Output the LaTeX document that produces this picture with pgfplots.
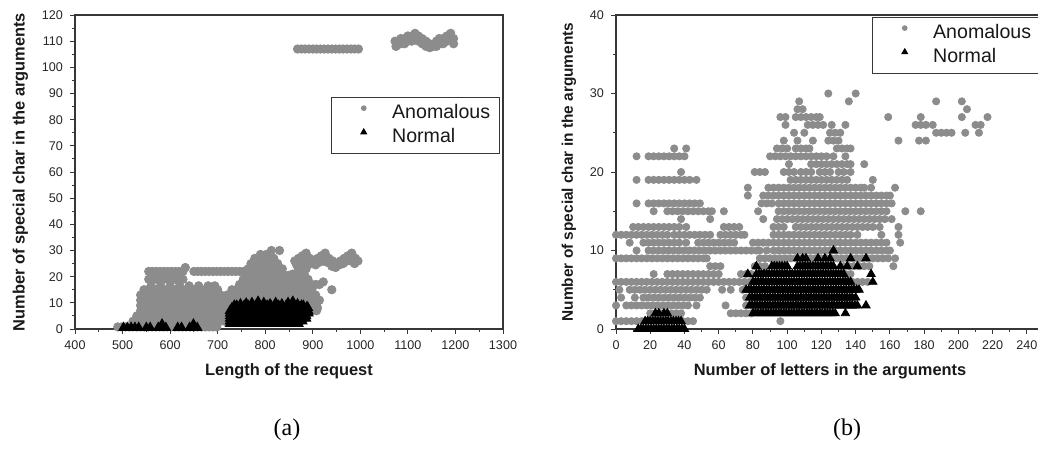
\documentclass[border=0pt]{standalone}
\usepackage{pgfplots}
\pgfplotsset{compat=1.18}
\usepackage{fontspec}
\setmainfont{Liberation Sans}
\newfontfamily\capfont{Liberation Serif}
\definecolor{anom}{RGB}{140,140,140}
\definecolor{axc}{RGB}{55,55,55}
\pgfplotsset{
  panel/.style={
    scale only axis, width=214pt, height=157pt,
    axis line style={axc, line width=0.65pt},
    tick style={axc, line width=0.5pt},
    tick align=outside,
    major tick length=2.5pt, minor tick length=1.5pt,
    xtick pos=bottom, ytick pos=left,
    ticklabel style={font=\fontsize{6.3}{7}\selectfont, text=black!85},
    /pgf/number format/assume math mode=true,
    /pgf/number format/1000 sep={},
    label style={font=\bfseries\fontsize{8.2}{9}\selectfont, text=black!90},
    legend style={draw=axc, line width=0.4pt, fill=white,
      font=\fontsize{9.8}{11}\selectfont, text=black!90,
      inner xsep=4.5pt, inner ysep=3.5pt, column sep=2.5pt, row sep=3pt,
      nodes={inner sep=0pt, text height=7pt, text depth=2pt}},
    legend cell align=left,
    legend image code/.code={\draw[##1] plot coordinates {(0pt,2.6pt)}; \path (-11.5pt,0pt) (11.5pt,0pt);},
  },
  gray pts/.style={only marks, mark=*, mark size=#1, color=anom, mark options={draw=anom, fill=anom},
    legend image post style={mark size=1.2pt}},
  black pts/.style={only marks, mark=triangle*, mark size=#1, color=black, mark options={draw=black, fill=black},
    legend image post style={mark size=1.7pt}},
}
\begin{document}
\begin{tikzpicture}
% ================= (a) =================
\begin{axis}[panel, at={(37.5pt,61pt)}, anchor=south west,
  xmin=400, xmax=1300, ymin=0, ymax=120,
  xtick={400,500,...,1300}, minor x tick num=1,
  ytick={0,10,...,120}, minor y tick num=1,
  xlabel={Length of the request},
  ylabel={Number of special char in the arguments},
  legend style={at={(0.598,0.739)}, anchor=north west}]
\addplot[gray pts=2.1pt] coordinates {
(868,107)(876,107)(884,107)(892,107)(900,107)(908,107)(916,107)(924,107)(932,107)(940,107)(948,107)(956,107)(964,107)(972,107)(980,107)(988,107)(996,107)
(1073,110)(1080,109)(1085,111)(1093,111)(1100,112)(1108,112)(1115,113)(1122,112)(1130,111)(1138,110)(1146,109)(1153,108)(1160,110)(1166,111)(1174,111)(1182,112)(1190,113)(1196,111)
(1075,108)(1085,109)(1093,109)(1100,110)(1108,110)(1115,111)(1122,110)(1130,109)(1138,108)(1146,107.5)(1160,108)(1166,109)(1174,109)(1182,110)(1190,111)(1196,109)
(490,0.8)(498,0.8)(506,0.8)(514,0.8)(522,0.8)(530,0.8)(538,0.8)(546,0.8)(554,0.8)(562,0.8)(570,0.8)(578,0.8)(586,0.8)(594,0.8)(602,0.8)(610,0.8)(618,0.8)(626,0.8)(634,0.8)(642,0.8)(650,0.8)(658,0.8)(666,0.8)(674,0.8)(682,0.8)(690,0.8)(698,0.8)
(522,3)(530,3)(538,3)(546,3)(554,3)(562,3)(570,3)(578,3)(586,3)(594,3)(602,3)(610,3)(618,3)(626,3)(634,3)(642,3)(650,3)(658,3)(666,3)(674,3)(682,3)(690,3)(698,3)(706,3)(714,3)(722,3)
(530,5)(538,5)(546,5)(554,5)(562,5)(570,5)(578,5)(586,5)(594,5)(602,5)(610,5)(618,5)(626,5)(634,5)(642,5)(650,5)(658,5)(666,5)(674,5)(682,5)(690,5)(698,5)(706,5)(714,5)(722,5)
(538,7)(546,7)(554,7)(562,7)(570,7)(578,7)(586,7)(594,7)(602,7)(610,7)(618,7)(626,7)(634,7)(642,7)(650,7)(658,7)(666,7)(674,7)(682,7)(690,7)(698,7)(706,7)(714,7)(722,7)
(538,9)(546,9)(554,9)(562,9)(570,9)(578,9)(586,9)(594,9)(602,9)(610,9)(618,9)(626,9)(634,9)(642,9)(650,9)(658,9)(666,9)(674,9)(682,9)(690,9)(698,9)(706,9)(714,9)(722,9)
(538,11)(546,11)(554,11)(562,11)(570,11)(578,11)(586,11)(594,11)(602,11)(610,11)(618,11)(626,11)(634,11)(642,11)(650,11)(658,11)(666,11)(674,11)(682,11)(690,11)(698,11)(706,11)(714,11)(722,11)
(538,13)(546,13)(554,13)(562,13)(570,13)(578,13)(586,13)(594,13)(602,13)(610,13)(618,13)(626,13)(634,13)(642,13)(650,13)(658,13)(666,13)(674,13)(682,13)(690,13)(698,13)(706,13)(720,13)
(545,15)(553,15)(561,15)(569,15)(577,15)(585,15)(593,15)(601,15)(609,15)(617,15)(625,15)(633,15)(641,15)(649,15)(657,15)(665,15)(673,15)(681,15)(689,15)(700,15)(730,15)
(560,16.5)(580,16.5)(600,16.5)(620,16.5)(640,16.5)(660,16.5)(680,16.5)(694,16.5)
(555,19)(563,19)(571,19)(579,19)(587,19)(595,19)(603,19)(611,19)(619,19)(627,19)
(555,22)(563,22)(571,22)(579,22)(587,22)(595,22)(603,22)(611,22)(619,22)(627,22)(632,23.5)
(650,22)(658,22)(666,22)(674,22)(682,22)(690,22)(698,22)(706,22)(714,22)(722,22)(730,22)(738,22)(746,22)(754,22)(762,22)(770,22)
(884,9)(892,9)(900,9)(908,9)(892,7)(900,7)(908,7)(910,8)
(730,11)(738,11)(746,11)(754,11)(762,11)(770,11)(778,11)(786,11)(794,11)(802,11)(810,11)(818,11)(826,11)(834,11)(842,11)(850,11)(858,11)(866,11)(874,11)(882,11)(890,11)(898,11)(906,11)(914,11)
(730,13)(738,13)(746,13)(754,13)(762,13)(770,13)(778,13)(786,13)(794,13)(802,13)(810,13)(818,13)(826,13)(834,13)(842,13)(850,13)(858,13)(866,13)(874,13)(882,13)(890,13)(898,13)(906,13)
(738,15)(746,15)(754,15)(762,15)(770,15)(778,15)(786,15)(794,15)(802,15)(810,15)(818,15)(826,15)(834,15)(842,15)(850,15)(858,15)(866,15)(874,15)(882,15)(890,15)(898,15)(940,15)
(746,17)(754,17)(762,17)(770,17)(778,17)(786,17)(794,17)(802,17)(810,17)(818,17)(826,17)(834,17)(842,17)(850,17)(858,17)(866,17)(874,17)(882,17)(890,17)(898,17)(906,17)(914,17)(922,18)
(754,19)(762,19)(770,19)(778,19)(786,19)(794,19)(802,19)(810,19)(818,19)(826,19)(834,19)(842,19)(850,19)(858,19)(866,19)(874,19)(882,19)(890,19)
(762,21)(770,21)(778,21)(786,21)(794,21)(802,21)(810,21)(818,21)(826,21)(834,21)(842,20.5)(850,20.5)(858,21)(866,21)(874,21)(882,21)
(764,23)(772,23)(780,23)(788,23)(796,23)(804,23)(812,23)(820,23)(828,23)(836,23)(870,23)(878,23)(886,23)
(770,25)(778,25)(786,25)(794,25)(802,25)(810,25)(818,25)(826,25)
(778,27)(786,27)(794,27)(802,27)(810,27)(818,27)(790,28.5)(802,28.5)(813,30)(830,30)
(862,26)(870,27)(878,28)(886,29)(894,27)(902,26)(910,27)(918,28)(926,29)(934,27)(942,26)(950,25)(958,26)(966,27)(974,28)(982,29)(990,27)(995,26)
(866,24.5)(874,25)(882,25.5)(890,26)(898,25)(906,24.5)(914,25.5)(922,26)(930,25.5)(940,24)(948,23.5)(956,24.5)(964,25)(972,26)(980,26)(988,25)
};
\addlegendentry{Anomalous}
\addplot[black pts=2.7pt] coordinates {
(726,2)(734,2)(742,2)(750,2)(758,2)(766,2)(774,2)(782,2)(790,2)(798,2)(806,2)(814,2)(822,2)(830,2)(838,2)(846,2)(854,2)(862,2)(870,2)
(726,3)(734,3)(742,3)(750,3)(758,3)(766,3)(774,3)(782,3)(790,3)(798,3)(806,3)(814,3)(822,3)(830,3)(838,3)(846,3)(854,3)(862,3)(870,3)(878,3)
(726,4)(734,4)(742,4)(750,4)(758,4)(766,4)(774,4)(782,4)(790,4)(798,4)(806,4)(814,4)(822,4)(830,4)(838,4)(846,4)(854,4)(862,4)(870,4)(878,4)(886,4)
(726,5)(734,5)(742,5)(750,5)(758,5)(766,5)(774,5)(782,5)(790,5)(798,5)(806,5)(814,5)(822,5)(830,5)(838,5)(846,5)(854,5)(862,5)(870,5)(878,5)(886,5)
(726,6)(734,6)(742,6)(750,6)(758,6)(766,6)(774,6)(782,6)(790,6)(798,6)(806,6)(814,6)(822,6)(830,6)(838,6)(846,6)(854,6)(862,6)(870,6)(878,6)(886,6)(891,6)
(726,7)(734,7)(742,7)(750,7)(758,7)(766,7)(774,7)(782,7)(790,7)(798,7)(806,7)(814,7)(822,7)(830,7)(838,7)(846,7)(854,7)(862,7)(870,7)(878,7)(886,7)(890,7)
(730,8)(738,8)(746,8)(754,8)(762,8)(770,8)(778,8)(786,8)(794,8)(802,8)(810,8)(818,8)(826,8)(834,8)(842,8)(850,8)(858,8)(866,8)(874,8)(882,8)(890,8)
(740,9)(748,9)(756,9)(764,9)(772,9)(780,9)(788,9)(796,9)(804,9)(812,9)(820,9)(828,9)(836,9)(844,9)(852,9)(860,9)(868,9)(876,9)
(735,9)(748,9.5)(760,9.8)(772,10)(785,10.5)(797,10)(810,9.5)(822,10)(835,9.5)(848,10)(858,10.5)(868,9.5)(880,9)(888,8.5)
(502,0.5)(510,0.5)(518,0.5)(526,0.5)(534,0.5)(550,0.5)(558,0.5)(575,0.5)(583,0.5)(591,0.5)(616,0.5)(624,0.5)(641,0.5)(649,0.5)(657,0.5)(583,1.8)(649,1.8)
};
\addlegendentry{Normal}
\end{axis}
% ================= (b) =================
\begin{axis}[panel, at={(308pt,61pt)}, anchor=south west,
  xmin=0, xmax=250, ymin=0, ymax=40,
  xtick={0,20,...,240}, minor x tick num=1,
  ytick={0,10,...,40}, minor y tick num=1,
  xlabel={Number of letters in the arguments},
  ylabel={Number of special char in the arguments},
  ylabel style={font=\bfseries\fontsize{7.7}{9}\selectfont},
  legend style={at={(0.598,0.994)}, anchor=north west}]
\addplot[gray pts=1.8pt] coordinates {
(0,1)(3,1)(6,1)(9,1)(12,1)(15,1)(18,1)(21,1)(24,1)(27,1)(30,1)(33,1)(36,1)(39,1)(42,1)(45,1)(96,1)
(20,2)(23,2)(26,2)(29,2)(32,2)(35,2)(38,2)(67,2)(70,2)(73,2)(76,2)(79,2)
(0,3)(6,3)(9,3)(12,3)(15,3)(18,3)(21,3)(24,3)(27,3)(30,3)(33,3)(36,3)(39,3)(42,3)(47,3)(64,3)(76,3)
(3,4)(11,4)(16,4)(19,4)(22,4)(25,4)(28,4)(31,4)(34,4)(37,4)(40,4)(43,4)(46,4)(49,4)(76,4)
(2,5)(8,5)(11,5)(14,5)(17,5)(20,5)(23,5)(26,5)(29,5)(32,5)(35,5)(38,5)(41,5)(44,5)(47,5)(50,5)(53,5)(62,5)(67,5)(74,5)
(0,6)(3,6)(6,6)(9,6)(12,6)(15,6)(18,6)(21,6)(24,6)(27,6)(30,6)(33,6)(36,6)(39,6)(42,6)(45,6)(48,6)(51,6)(54,6)(57,6)(60,6)(63,6)(66,6)(69,6)(72,6)(75,6)(78,6)(138,6)(141,6)(144,6)(147,6)
(22,7)(30,7)(33,7)(36,7)(39,7)(42,7)(45,7)(48,7)(51,7)(54,7)(57,7)(60,7)(73,7)(76,7)(79,7)(85,7)(134,7)(137,7)
(55,8)(58,8)(61,8)(81,8)(84,8)(87,8)(133,8)(136,8)(139,8)(142,8)(145,8)(148,8)(162,8)
(0,9)(3,9)(6,9)(9,9)(12,9)(15,9)(18,9)(21,9)(24,9)(27,9)(30,9)(33,9)(36,9)(39,9)(42,9)(45,9)(48,9)(51,9)(53,9)
(84,9)(87,9)(90,9)(93,9)(96,9)(99,9)(102,9)(105,9)(108,9)(111,9)(114,9)(117,9)(120,9)(123,9)(126,9)(129,9)(132,9)(135,9)(138,9)(141,9)(144,9)(147,9)(150,9)(153,9)(156,9)(159,9)(163,9)
(12,10)(19,10)(22,10)(25,10)(28,10)(31,10)(34,10)(37,10)(40,10)(43,10)(46,10)(49,10)(52,10)(55,10)(58,10)(61,10)(64,10)(67,10)(70,10)(73,10)(76,10)(79,10)(82,10)(84,10)(88,10)
(92,10)(95,10)(98,10)(101,10)(104,10)(107,10)(110,10)(113,10)(116,10)(119,10)(122,10)(125,10)(128,10)(131,10)(134,10)(137,10)(140,10)(143,10)(146,10)(149,10)(152,10)(155,10)(158,10)(160,10)
(8,11)(16,11)(19,11)(22,11)(25,11)(28,11)(31,11)(34,11)(37,11)(41,11)(48,11)(51,11)(54,11)(57,11)(60,11)(63,11)(66,11)(69,11)
(80,11)(83,11)(86,11)(89,11)(92,11)(95,11)(98,11)(101,11)(104,11)(107,11)(110,11)(113,11)(116,11)(119,11)(122,11)(125,11)(128,11)(131,11)(134,11)(137,11)(140,11)(143,11)(146,11)(149,11)(152,11)(155,11)(158,11)(166,11)
(0,12)(3,12)(6,12)(9,12)(12,12)(15,12)(18,12)(21,12)(24,12)(27,12)(30,12)(34,12)(37,12)(40,12)(43,12)(46,12)(49,12)(52,12)(55,12)(61,12)(64,12)(67,12)(70,12)(73,12)(75,12)
(92,12)(95,12)(98,12)(101,12)(104,12)(107,12)(110,12)(113,12)(116,12)(119,12)(122,12)(125,12)(128,12)(131,12)(134,12)(137,12)(141,12)(155,12)(165,12)
(10,13)(13,13)(16,13)(19,13)(22,13)(25,13)(28,13)(31,13)(34,13)(37,13)(41,13)(63,13)(66,13)(69,13)(72,13)(92,13)(95,13)(98,13)
(105,13)(108,13)(111,13)(114,13)(117,13)(120,13)(123,13)(126,13)(129,13)(132,13)(135,13)(138,13)(141,13)(144,13)(147,13)(150,13)(154,13)(165,13)
(38,14)(55,14)(86,14)(94,14)(97,14)(100,14)(103,14)(106,14)(109,14)(112,14)(115,14)(118,14)(121,14)(124,14)(127,14)(130,14)(133,14)(136,14)(139,14)(142,14)(145,14)(148,14)(151,14)(154,14)(157,14)(161,14)
(22,15)(30,15)(33,15)(36,15)(39,15)(42,15)(45,15)(48,15)(51,15)(54,15)(56,15)(63,15)(83,15)
(95,15)(98,15)(101,15)(104,15)(107,15)(110,15)(113,15)(116,15)(119,15)(122,15)(125,15)(128,15)(131,15)(134,15)(137,15)(140,15)(143,15)(146,15)(149,15)(152,15)(155,15)(158,15)(169,15)(178,15)
(12,16)(19,16)(22,16)(25,16)(28,16)(31,16)(34,16)(37,16)(40,16)(43,16)(46,16)(49,16)(85,16)(88,16)(91,16)
(95,16)(98,16)(101,16)(104,16)(107,16)(110,16)(113,16)(116,16)(119,16)(122,16)(125,16)(128,16)(131,16)(134,16)(137,16)(140,16)(143,16)(146,16)(149,16)(152,16)(155,16)(158,16)(161,16)
(77,17)(86,17)(89,17)(92,17)(95,17)(98,17)(101,17)(104,17)(107,17)(110,17)(113,17)(116,17)(119,17)(122,17)(125,17)(128,17)(131,17)(134,17)(137,17)(140,17)(143,17)(146,17)(149,17)(152,17)(155,17)(158,17)(160,17)
(77,18)(89,18)(92,18)(95,18)(98,18)(101,18)(104,18)(107,18)(110,18)(113,18)(116,18)(119,18)(122,18)(125,18)(128,18)(131,18)(134,18)(137,18)(140,18)(143,18)(145,18)(149,18)(163,18)
(12,19)(19,19)(22,19)(25,19)(28,19)(31,19)(34,19)(37,19)(40,19)(43,19)(47,19)(102,19)(105,19)(108,19)(111,19)(114,19)(117,19)(120,19)(123,19)(126,19)(129,19)(132,19)(135,19)(150,19)
(38,20)(81,20)(84,20)(87,20)(98,20)(101,20)(104,20)(108,20)(111,20)(114,20)(119,20)(122,20)(125,20)(130,20)(133,20)(137,20)
(101,21)(114,21)(117,21)(120,21)(123,21)(126,21)(129,21)(132,21)(135,21)(137,21)(145,21)
(12,22)(19,22)(22,22)(25,22)(28,22)(31,22)(34,22)(37,22)(40,22)(90,22)(93,22)(96,22)(99,22)(102,22)(105,22)(108,22)(111,22)(114,22)(117,22)(120,22)(123,22)(127,22)(134,22)
(34,23)(41,23)(94,23)(97,23)(100,23)(105,23)(108,23)(111,23)(113,23)(129,23)(132,23)(135,23)(137,23)
(98,24)(106,24)(115,24)(124,24)(127,24)(130,24)(165,24)(177,24)(181,24)
(104,25)(110,25)(125,25)(128,25)(131,25)(187,25)(190,25)(193,25)(196,25)(204,25)(212,25)
(99,26)(112,26)(115,26)(118,26)(121,26)(126,26)(134,26)(175,26)(178,26)(181,26)(185,26)(210,26)(213,26)
(96,27)(99,27)(105,27)(108,27)(111,27)(114,27)(117,27)(119,27)(159,27)(178,27)(202,27)(217,27)
(106,28)(109,28)(205,28)
(107,29)(136,29)(187,29)(202,29)
(124,30)(140,30)
};
\addlegendentry{Anomalous}
\addplot[black pts=2.4pt] coordinates {
(13,0)(16,0)(19,0)(22,0)(25,0)(28,0)(31,0)(34,0)(37,0)(40,0)
(14.5,0)(17.5,0)(20.5,0)(23.5,0)(26.5,0)(29.5,0)(32.5,0)(35.5,0)(38.5,0)
(17,1)(20,1)(23,1)(26,1)(29,1)(32,1)(35,1)(38,1)
(18.5,1)(21.5,1)(24.5,1)(27.5,1)(30.5,1)(33.5,1)(36.5,1)
(23,2)(25,2)(28,2)(30,2)
(80,2)(83,2)(86,2)(89,2)(92,2)(95,2)(98,2)(101,2)(104,2)(107,2)(110,2)(113,2)(116,2)(119,2)(122,2)(125,2)(128,2)(134,2)
(81.5,2)(84.5,2)(87.5,2)(90.5,2)(93.5,2)(96.5,2)(99.5,2)(102.5,2)(105.5,2)(108.5,2)(111.5,2)(114.5,2)(117.5,2)(120.5,2)(123.5,2)(126.5,2)
(78,3)(81,3)(84,3)(87,3)(90,3)(93,3)(96,3)(99,3)(102,3)(105,3)(108,3)(111,3)(114,3)(117,3)(120,3)(123,3)(126,3)(129,3)(132,3)(135,3)(138,3)(141,3)(146,3)
(79.5,3)(82.5,3)(85.5,3)(88.5,3)(91.5,3)(94.5,3)(97.5,3)(100.5,3)(103.5,3)(106.5,3)(109.5,3)(112.5,3)(115.5,3)(118.5,3)(121.5,3)(124.5,3)(127.5,3)(130.5,3)(133.5,3)(136.5,3)(139.5,3)
(78,4)(81,4)(84,4)(87,4)(90,4)(93,4)(96,4)(99,4)(102,4)(105,4)(108,4)(111,4)(114,4)(117,4)(120,4)(123,4)(126,4)(129,4)(132,4)(135,4)(138,4)(140,4)
(79.5,4)(82.5,4)(85.5,4)(88.5,4)(91.5,4)(94.5,4)(97.5,4)(100.5,4)(103.5,4)(106.5,4)(109.5,4)(112.5,4)(115.5,4)(118.5,4)(121.5,4)(124.5,4)(127.5,4)(130.5,4)(133.5,4)(136.5,4)
(76,5)(79,5)(82,5)(85,5)(88,5)(91,5)(94,5)(97,5)(100,5)(103,5)(106,5)(109,5)(112,5)(115,5)(118,5)(121,5)(124,5)(127,5)(130,5)(133,5)(136,5)(139,5)(142,5)
(77.5,5)(80.5,5)(83.5,5)(86.5,5)(89.5,5)(92.5,5)(95.5,5)(98.5,5)(101.5,5)(104.5,5)(107.5,5)(110.5,5)(113.5,5)(116.5,5)(119.5,5)(122.5,5)(125.5,5)(128.5,5)(131.5,5)(134.5,5)(137.5,5)(140.5,5)
(80,6)(83,6)(86,6)(89,6)(92,6)(95,6)(98,6)(101,6)(104,6)(107,6)(110,6)(113,6)(116,6)(119,6)(122,6)(125,6)(128,6)(131,6)(134,6)(137,6)(150,6)
(81.5,6)(84.5,6)(87.5,6)(90.5,6)(93.5,6)(96.5,6)(99.5,6)(102.5,6)(105.5,6)(108.5,6)(111.5,6)(114.5,6)(117.5,6)(120.5,6)(123.5,6)(126.5,6)(129.5,6)(132.5,6)(135.5,6)
(77,7)(82,7)(85,7)(88,7)(91,7)(94,7)(97,7)(100,7)(103,7)(106,7)(109,7)(112,7)(115,7)(118,7)(121,7)(124,7)(127,7)(130,7)(133,7)(149,7)
(83.5,7)(86.5,7)(89.5,7)(92.5,7)(95.5,7)(98.5,7)(101.5,7)(104.5,7)(107.5,7)(110.5,7)(113.5,7)(116.5,7)(119.5,7)(122.5,7)(125.5,7)(128.5,7)(131.5,7)
(82,8)(91,8)(94,8)(97,8)(100,8)(106,8)(109,8)(112,8)(115,8)(118,8)(121,8)(124,8)(127,8)(131,8)(135,8)(141,8)
(92.5,8)(95.5,8)(98.5,8)(107.5,8)(110.5,8)(113.5,8)(116.5,8)(119.5,8)(122.5,8)(125.5,8)
(106,9)(109,9)(111,9)(118,9)(122,9)(125,9)(137,9)(146,9)
(127,10)
};
\addlegendentry{Normal}
\end{axis}
\node[font=\capfont\fontsize{12}{14}\selectfont] at (143.5pt,10.5pt) {(a)};
\node[font=\capfont\fontsize{12}{14}\selectfont] at (423.5pt,10.5pt) {(b)};
\pgfresetboundingbox
\useasboundingbox (0,0) rectangle (519pt,225.5pt);
\end{tikzpicture}
\end{document}
